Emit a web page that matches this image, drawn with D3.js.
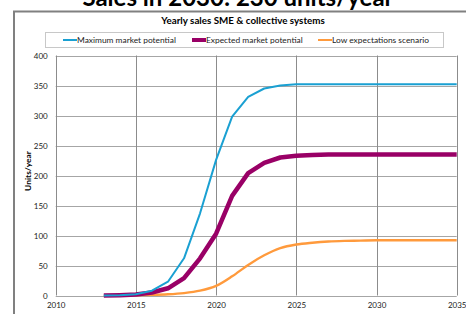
<!DOCTYPE html>
<html><head><meta charset="utf-8">
<script src="https://cdn.jsdelivr.net/npm/d3@7"></script>
<style>body{margin:0;background:#fff;overflow:hidden}svg{display:block}text{font-family:Lato,"Open Sans",sans-serif}</style>
</head><body>
<svg id="c" width="466" height="314"></svg>
<script>
const years = [2013,2014,2015,2016,2017,2018,2019,2020,2021,2022,2023,2024,2025,2026,2027,2028,2029,2030,2031,2032,2033,2034,2035];
const maxPotential = [0,0.5,2,8,23,62,137,226,298,331,345,350,352,352,352,352,352,352,352,352,352,352,352];
const expectedPotential = [0,0.5,1.5,5,12,29,62,103,166,204,221,230,233,234,235,235,235,235,235,235,235,235,235];
const lowScenario = [0,0,0.5,1,2,4,8,16,32,51,67,79,85,88,90,91,91.5,92,92,92,92,92,92];
const seriesNames = ["Maximum market potential","Expected market potential","Low expectations scenario"];
const xTicks = [2010,2015,2020,2025,2030,2035];
const yTicks = [0,50,100,150,200,250,300,350,400];

const svg = d3.select("#c");
const colors = ["#1aa0d2","#990066","#ff9a3c"];
const widths = [2,4.5,2.4];

// big cut-off title (cut off at the top in the reference too)
svg.append("text").attr("x",238).attr("y",6).attr("text-anchor","middle")
  .attr("font-size",24).attr("font-weight","bold").attr("fill","#000")
  .text("Sales in 2030: 230 units/year");

// frame
svg.append("rect").attr("x",14).attr("y",11.5).attr("width",470).attr("height",320)
  .attr("fill","#fff").attr("stroke","#808080").attr("stroke-width",2);

svg.append("text").attr("x",243).attr("y",24).attr("text-anchor","middle")
  .attr("font-size",9.8).attr("font-weight","bold").text("Yearly sales SME & collective systems");

// legend
svg.append("rect").attr("x",45.5).attr("y",32.5).attr("width",398).attr("height",15)
  .attr("fill","#fff").attr("stroke","#c8c8c8");
const legX = [63,192,318];
seriesNames.forEach((n,i)=>{
  svg.append("line").attr("x1",legX[i]).attr("x2",legX[i]+14).attr("y1",40).attr("y2",40)
    .attr("stroke",colors[i]).attr("stroke-width",i===1?4:2);
  svg.append("text").attr("x",legX[i]+14).attr("y",43).attr("font-size",8.4).attr("fill","#222").text(n);
});

const x = d3.scaleLinear().domain([2010,2035]).range([55.7,456.7]);
const y = d3.scaleLinear().domain([0,400]).range([295.5,55.5]);

const g = svg.append("g");
g.append("g").selectAll("line").data(yTicks).join("line")
  .attr("x1",x(2010)).attr("x2",x(2035)).attr("y1",d=>Math.round(y(d))+0.5).attr("y2",d=>Math.round(y(d))+0.5)
  .attr("stroke","#a6a6a6").attr("stroke-width",1);
g.append("g").selectAll("line").data(xTicks).join("line")
  .attr("x1",d=>Math.round(x(d))+0.5).attr("x2",d=>Math.round(x(d))+0.5).attr("y1",y(400)).attr("y2",y(0))
  .attr("stroke","#8c8c8c").attr("stroke-width",1);

const yAxis = d3.axisLeft(y).tickValues(yTicks).tickSize(0).tickPadding(8);
const ya = svg.append("g").attr("transform",`translate(${x(2010)},0)`).call(yAxis);
ya.select(".domain").remove();
ya.selectAll("text").attr("font-size",8).attr("fill","#222").attr("font-family","Lato,sans-serif");

const xAxis = d3.axisBottom(x).tickValues(xTicks).tickFormat(d3.format("d")).tickSize(0).tickPadding(7);
const xa = svg.append("g").attr("transform",`translate(0,${y(0)})`).call(xAxis);
xa.select(".domain").remove();
xa.selectAll("text").attr("font-size",8).attr("fill","#222").attr("font-family","Lato,sans-serif");

svg.append("text").attr("transform","translate(31,171) rotate(-90)").attr("text-anchor","middle")
  .attr("font-size",8.4).attr("font-weight","bold").text("Units/year");

const data = [maxPotential, expectedPotential, lowScenario];
[2,1,0].forEach(i=>{
  const line = d3.line().x((d,j)=>x(years[j])).y(d=>y(d))
    .curve(i===2?d3.curveMonotoneX:d3.curveLinear);
  svg.append("path").datum(data[i]).attr("d",line).attr("fill","none")
    .attr("stroke",colors[i]).attr("stroke-width",widths[i]).attr("stroke-linejoin","round");
});
</script>
</body></html>
